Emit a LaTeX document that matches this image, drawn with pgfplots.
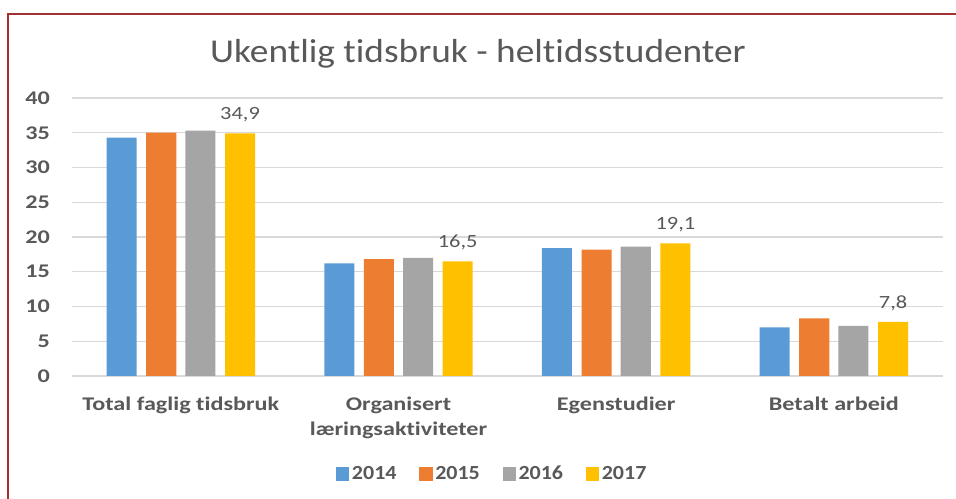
\documentclass[border=0pt]{standalone}
\usepackage{fontspec}
\setmainfont{Carlito}[RawFeature=-liga]
\newfontfamily\titlefont[FakeStretch=1.12,RawFeature=-liga]{Carlito}
\newfontfamily\labfont[FakeStretch=1.25,RawFeature=-liga]{Carlito}
\newfontfamily\legfont[FakeStretch=1.1]{Carlito}
\newfontfamily\valfont[FakeStretch=1.2]{Carlito}
\usepackage{pgfplots}
\pgfplotsset{compat=1.18}
\definecolor{cblue}{HTML}{5B9BD5}
\definecolor{corange}{HTML}{ED7D31}
\definecolor{cgray}{HTML}{A5A5A5}
\definecolor{cyellow}{HTML}{FFC000}
\definecolor{txt}{HTML}{595959}
\definecolor{gridc}{HTML}{D9D9D9}
\definecolor{framec}{RGB}{160,50,50}
\begin{document}
\begin{tikzpicture}
\useasboundingbox (0,0) rectangle (717pt,374.25pt);
\draw[framec, line width=1.6pt] (6pt,0) -- (6pt,364pt) -- (717pt,364pt);
\node[txt, font=\titlefont\fontsize{25}{29}\selectfont] at (358.5pt,334pt) {Ukentlig tidsbruk - heltidsstudenter};
\begin{axis}[
  at={(54pt,92.25pt)}, anchor=south west,
  scale only axis, width=653pt, height=208.5pt,
  xmin=-0.5, xmax=3.5, ymin=0, ymax=40,
  ytick={0,5,...,40},
  xtick={0,1,2,3},
  xticklabels={Total faglig tidsbruk, {Organisert\\læringsaktiviteter}, Egenstudier, Betalt arbeid},
  xticklabel style={align=center, font=\labfont\fontsize{14.5}{19}\selectfont\bfseries, text=txt, yshift=-12pt},
  yticklabel style={font=\labfont\fontsize{14.5}{16}\selectfont\bfseries, text=txt, xshift=-13pt},
  /pgf/number format/assume math mode=true,
  axis line style={draw=none},
  major tick length=0pt,
  ymajorgrids, grid style={draw=gridc, line width=0.8pt},
  ybar, bar width=0.138,
  legend style={at={(0.483,-0.352)}, anchor=center, draw=none, legend columns=4,
    font=\legfont\fontsize{15}{17}\selectfont\bfseries, text=txt,
    /tikz/every even column/.append style={column sep=15pt}},
  legend image code/.code={\fill[#1] (0pt,-5pt) rectangle (10pt,5pt);},
]
\addplot[fill=cblue, draw=none, bar shift=-0.272] coordinates {(0,34.3) (1,16.2) (2,18.4) (3,7.0)};
\addplot[fill=corange, draw=none, bar shift=-0.09] coordinates {(0,35.0) (1,16.8) (2,18.2) (3,8.3)};
\addplot[fill=cgray, draw=none, bar shift=0.09] coordinates {(0,35.3) (1,17.0) (2,18.6) (3,7.2)};
\addplot[fill=cyellow, draw=none, bar shift=0.272,
  nodes near coords, point meta=y,
  nodes near coords style={text=txt, font=\valfont\fontsize{14}{16}\selectfont, yshift=5pt,
    /pgf/number format/.cd, fixed, fixed zerofill, precision=1, use comma, assume math mode=true}]
  coordinates {(0,34.9) (1,16.5) (2,19.1) (3,7.8)};
\legend{2014,2015,2016,2017}
\end{axis}
\end{tikzpicture}
\end{document}
